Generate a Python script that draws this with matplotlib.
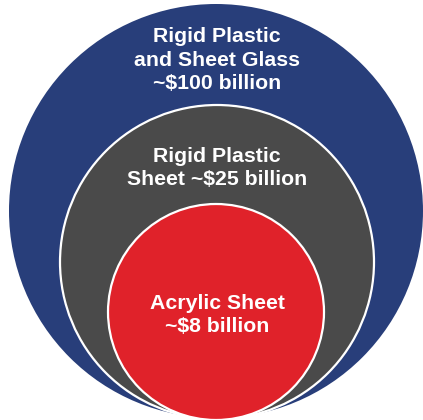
import matplotlib
matplotlib.use("Agg")
import matplotlib.pyplot as plt
from matplotlib.patches import Circle

# Market segments, outermost first
labels = [
    "Rigid Plastic\nand Sheet Glass\n~$100 billion",
    "Rigid Plastic\nSheet ~$25 billion",
    "Acrylic Sheet\n~$8 billion",
]
values_bn = [100, 25, 8]

# Layout (pixel coordinates of the 423x420 canvas)
centers = [(216, 211), (217, 262), (216, 312)]
radii = [207, 157, 108]
label_y = [60, 168, 315]
colors = ["#283e7a", "#4a4a4a", "#e0222a"]
edges = ["none", "white", "white"]


def main():
    fig = plt.figure(figsize=(4.23, 4.20), dpi=100)
    ax = fig.add_axes([0, 0, 1, 1])
    ax.set_xlim(0, 423)
    ax.set_ylim(420, 0)
    ax.set_aspect("equal")
    ax.axis("off")

    for i, val in enumerate(values_bn):
        ax.add_patch(Circle(centers[i], radii[i], facecolor=colors[i],
                            edgecolor=edges[i], linewidth=1.6, zorder=i + 1))
        ax.text(217, label_y[i], labels[i], color="white", fontsize=15.3,
                fontweight="bold", family="Liberation Sans", ha="center",
                va="center", linespacing=1.31, zorder=10)

    fig.savefig("out.png", dpi=100)
    plt.close(fig)


if __name__ == "__main__":
    main()
